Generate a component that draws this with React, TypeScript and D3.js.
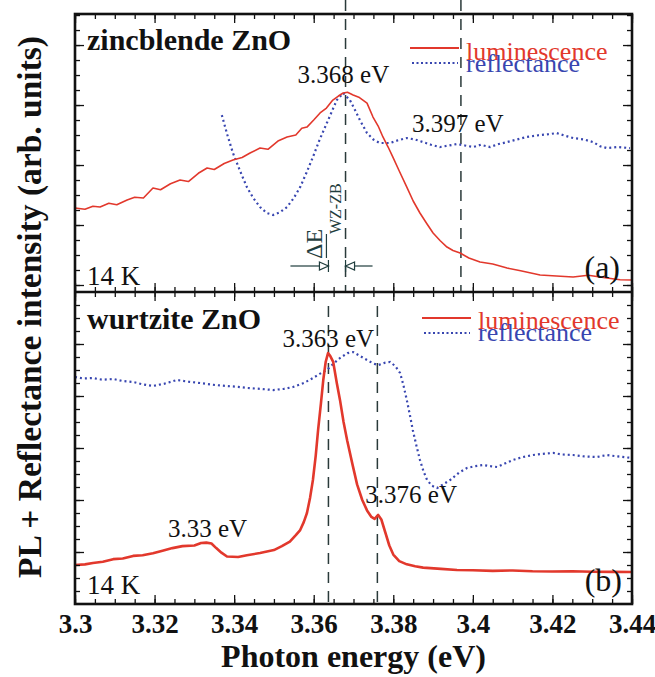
import React, { useRef, useEffect } from "react";
import * as d3 from "d3";

// x axis
const xTicks = [3.3, 3.32, 3.34, 3.36, 3.38, 3.4, 3.42, 3.44];
const xTickLabels = ["3.3", "3.32", "3.34", "3.36", "3.38", "3.4", "3.42", "3.44"];

// (a) zincblende ZnO  -- [energy (eV), intensity (arb.)]
const zbLuminescence = [
  [3.3, 5.13], [3.3025, 5.05], [3.3045, 5.25], [3.3063, 5.2], [3.3085, 5.45], [3.3105, 5.35],
  [3.3131, 5.67], [3.315, 5.85], [3.3172, 5.8], [3.3196, 6.47], [3.3215, 6.35], [3.324, 6.75],
  [3.3264, 7.0], [3.3285, 6.9], [3.331, 7.45], [3.3332, 7.8], [3.335, 7.7], [3.3375, 8.1],
  [3.3397, 8.33], [3.342, 8.5], [3.344, 8.8], [3.3465, 9.13], [3.3485, 9.05], [3.351, 9.6],
  [3.3533, 9.87], [3.3555, 10.0], [3.357, 10.45], [3.3583, 10.53], [3.36, 11.0], [3.3616, 11.47],
  [3.3632, 11.8], [3.3648, 12.33], [3.3662, 12.6], [3.3674, 12.8], [3.3685, 12.85], [3.3699, 12.67],
  [3.3715, 12.5], [3.3734, 12.13], [3.3749, 11.2], [3.3762, 10.6], [3.3774, 9.87], [3.3787, 9.2],
  [3.3799, 8.53], [3.3815, 7.6], [3.3834, 6.53], [3.385, 5.6], [3.3867, 4.8], [3.3884, 4.1],
  [3.39, 3.47], [3.3918, 2.95], [3.3935, 2.53], [3.395, 2.3], [3.3968, 2.13], [3.399, 1.8],
  [3.4018, 1.53], [3.405, 1.4], [3.4086, 1.13], [3.412, 0.95], [3.4169, 0.67], [3.421, 0.6],
  [3.4252, 0.53], [3.429, 0.65], [3.4337, 0.47], [3.437, 0.35], [3.44, 0.33],
];
const zbReflectance = [
  [3.3369, 11.33], [3.3383, 10.0], [3.3397, 8.8], [3.3415, 7.6], [3.3432, 6.53], [3.3448, 5.8],
  [3.3465, 5.2], [3.3482, 4.8], [3.3498, 4.67], [3.3515, 4.85], [3.3533, 5.2], [3.355, 5.8],
  [3.3566, 6.53], [3.3582, 7.5], [3.3598, 8.53], [3.3615, 9.7], [3.3633, 10.8], [3.3658, 12.33],
  [3.3674, 12.8], [3.3691, 12.33], [3.3705, 11.6], [3.3716, 11.0], [3.3734, 10.13], [3.375, 9.7],
  [3.3766, 9.47], [3.3792, 9.47], [3.3812, 9.65], [3.3834, 9.8], [3.3855, 9.7], [3.3875, 9.53],
  [3.3895, 9.35], [3.3917, 9.2], [3.394, 9.3], [3.396, 9.4], [3.398, 9.3], [3.4001, 9.2],
  [3.402, 9.35], [3.4043, 9.2], [3.4065, 9.4], [3.4086, 9.53], [3.411, 9.7], [3.4136, 9.87],
  [3.4169, 10.0], [3.419, 10.05], [3.4211, 10.13], [3.4232, 9.95], [3.4252, 9.8], [3.428, 9.7],
  [3.4302, 9.53], [3.432, 9.25], [3.4337, 9.13], [3.4365, 9.2], [3.4395, 9.13],
];
const zbMarkers = [3.368, 3.397];

// (b) wurtzite ZnO
const wzLuminescence = [
  [3.3, 3.0], [3.3025, 3.05], [3.3045, 3.15], [3.307, 3.25], [3.3096, 3.45], [3.312, 3.5],
  [3.3146, 3.7], [3.317, 3.75], [3.3196, 3.9], [3.322, 4.1], [3.3245, 4.3], [3.327, 4.45],
  [3.33, 4.5], [3.3317, 4.69], [3.333, 4.72], [3.3343, 4.65], [3.3355, 4.3], [3.3368, 3.95],
  [3.3382, 3.65], [3.341, 3.62], [3.3432, 3.75], [3.3465, 3.92], [3.35, 4.15], [3.352, 4.45],
  [3.354, 4.8], [3.3555, 5.3], [3.3566, 5.69], [3.3575, 6.3], [3.3583, 7.0], [3.3591, 8.2],
  [3.3598, 9.54], [3.3605, 11.4], [3.3611, 13.38], [3.3618, 15.4], [3.3624, 17.23], [3.363, 18.6],
  [3.3636, 19.31], [3.3642, 19.05], [3.3649, 18.62], [3.3658, 17.0], [3.3666, 15.7], [3.3675, 14.0],
  [3.3684, 12.6], [3.3697, 10.8], [3.3709, 9.2], [3.3722, 8.0], [3.3734, 7.2], [3.3745, 6.7],
  [3.3753, 6.55], [3.3762, 6.85], [3.377, 6.5], [3.378, 5.5], [3.379, 4.5], [3.38, 3.8],
  [3.3815, 3.3], [3.3834, 3.05], [3.3855, 2.9], [3.3875, 2.8], [3.392, 2.7], [3.396, 2.62],
  [3.4, 2.6], [3.405, 2.55], [3.41, 2.58], [3.415, 2.52], [3.42, 2.5], [3.425, 2.52],
  [3.43, 2.48], [3.435, 2.47], [3.44, 2.46],
];
const wzReflectance = [
  [3.3, 17.46], [3.302, 17.35], [3.3045, 17.38], [3.307, 17.25], [3.3096, 17.31], [3.312, 17.15],
  [3.3146, 17.08], [3.317, 16.9], [3.3196, 16.77], [3.3225, 16.95], [3.3256, 17.23], [3.3285, 17.1],
  [3.3314, 17.0], [3.335, 16.85], [3.3382, 16.77], [3.341, 16.7], [3.3432, 16.62], [3.3465, 16.55],
  [3.3498, 16.46], [3.3525, 16.55], [3.3548, 16.69], [3.3575, 17.0], [3.3598, 17.38], [3.3615, 17.7],
  [3.3633, 18.0], [3.365, 18.5], [3.3666, 18.92], [3.3685, 19.3], [3.3699, 19.38], [3.3715, 19.1],
  [3.3734, 18.77], [3.375, 18.5], [3.3762, 18.38], [3.3778, 18.55], [3.3792, 18.62], [3.3805, 18.3],
  [3.3817, 17.77], [3.3825, 16.9], [3.3834, 15.69], [3.3842, 14.5], [3.3849, 13.38], [3.3858, 12.2],
  [3.3867, 11.08], [3.3876, 10.2], [3.3885, 9.54], [3.3897, 9.1], [3.391, 8.92], [3.3925, 9.2],
  [3.3943, 9.54], [3.3965, 10.1], [3.3985, 10.46], [3.4005, 10.6], [3.4026, 10.69], [3.4045, 10.6],
  [3.4061, 10.54], [3.408, 10.8], [3.4101, 11.08], [3.4125, 11.3], [3.4151, 11.46], [3.4175, 11.55],
  [3.4202, 11.62], [3.4225, 11.5], [3.4252, 11.46], [3.428, 11.35], [3.4312, 11.31], [3.4337, 11.46],
  [3.4365, 11.35], [3.44, 11.23],
];
const wzMarkers = [3.3637, 3.376];

const RED = "#e2382c";
const BLUE = "#3846b0";
const FONT = "'Liberation Serif', 'Times New Roman', serif";

const App = () => {
  const ref = useRef<SVGSVGElement>(null);
  const width = 655;
  const height = 677;
  const left = 75;
  const right = 632;

  useEffect(() => {
    const svg = d3.select(ref.current);
    svg.selectAll("*").remove();

    const x = d3.scaleLinear().domain([3.3, 3.44]).range([left, right]);
    const minorX = d3.range(0, 29).map((i) => 3.3 + i * 0.005);

    const panels = [
      {
        top: 14, bottom: 292,
        y: d3.scaleLinear().domain([-7 / 15, 18.07]).range([292, 14]),
        minor: d3.range(0, 19), major: [0, 4, 8, 12, 16],
        lum: zbLuminescence, refl: zbReflectance, lumWidth: 1.6,
        markers: zbMarkers, markerTop: 0, markerBottom: 292,
      },
      {
        top: 292, bottom: 604,
        y: d3.scaleLinear().domain([0, 24]).range([604, 292]),
        minor: d3.range(1, 24), major: [4, 8, 12, 16, 20],
        lum: wzLuminescence, refl: wzReflectance, lumWidth: 2.6,
        markers: wzMarkers, markerTop: 306, markerBottom: 604,
      },
    ];

    const blank = () => "";

    panels.forEach((p) => {
      const g = svg.append("g");

      // dashed peak markers
      g.selectAll(".marker")
        .data(p.markers)
        .enter()
        .append("line")
        .attr("x1", (d) => x(d))
        .attr("x2", (d) => x(d))
        .attr("y1", p.markerTop)
        .attr("y2", p.markerBottom)
        .attr("stroke", "#2a3a3a")
        .attr("stroke-width", 1.5)
        .attr("stroke-dasharray", "11,8");

      const line = d3
        .line<number[]>()
        .x((d) => x(d[0]))
        .y((d) => p.y(d[1]));

      g.append("path")
        .datum(p.refl)
        .attr("d", line)
        .attr("fill", "none")
        .attr("stroke", BLUE)
        .attr("stroke-width", 2.2)
        .attr("stroke-dasharray", "2,3");

      g.append("path")
        .datum(p.lum)
        .attr("d", line)
        .attr("fill", "none")
        .attr("stroke", RED)
        .attr("stroke-width", p.lumWidth)
        .attr("stroke-linejoin", "round");

      // ticks pointing inward on all four sides
      const tickSets = [
        { vals: minorX, size: 5 },
        { vals: xTicks, size: 9 },
      ];
      tickSets.forEach((t) => {
        g.append("g")
          .attr("transform", `translate(0,${p.bottom})`)
          .call(d3.axisTop(x).tickValues(t.vals).tickSize(t.size).tickFormat(blank));
        g.append("g")
          .attr("transform", `translate(0,${p.top})`)
          .call(d3.axisBottom(x).tickValues(t.vals).tickSize(t.size).tickFormat(blank));
      });
      [
        { vals: p.minor, size: 5 },
        { vals: p.major, size: 9 },
      ].forEach((t) => {
        g.append("g")
          .attr("transform", `translate(${left},0)`)
          .call(d3.axisRight(p.y).tickValues(t.vals).tickSize(t.size).tickFormat(blank));
        g.append("g")
          .attr("transform", `translate(${right},0)`)
          .call(d3.axisLeft(p.y).tickValues(t.vals).tickSize(t.size).tickFormat(blank));
      });
    });

    svg.selectAll(".domain").remove();
    svg.selectAll(".tick line").attr("stroke", "#111").attr("stroke-width", 1.3);

    // frame
    svg.append("rect")
      .attr("x", left).attr("y", 14)
      .attr("width", right - left).attr("height", 604 - 14)
      .attr("fill", "none").attr("stroke", "#111").attr("stroke-width", 2.6);
    svg.append("line")
      .attr("x1", left).attr("x2", right).attr("y1", 292).attr("y2", 292)
      .attr("stroke", "#111").attr("stroke-width", 2.6);

    // x tick labels
    const xAxis = svg.append("g")
      .attr("transform", "translate(0,604)")
      .call(
        d3.axisBottom(x)
          .tickValues(xTicks)
          .tickSize(0)
          .tickPadding(10)
          .tickFormat((d, i) => xTickLabels[i])
      );
    xAxis.select(".domain").remove();
    xAxis.selectAll("text")
      .attr("font-family", FONT)
      .attr("font-size", 27)
      .attr("font-weight", "bold")
      .attr("fill", "#111");

    // axis titles
    svg.append("text")
      .attr("x", (left + right) / 2)
      .attr("y", 667)
      .attr("text-anchor", "middle")
      .attr("font-family", FONT)
      .attr("font-size", 32)
      .attr("font-weight", "bold")
      .attr("fill", "#111")
      .text("Photon energy (eV)");
    svg.append("text")
      .attr("transform", "translate(41,307) rotate(-90)")
      .attr("text-anchor", "middle")
      .attr("font-family", FONT)
      .attr("font-size", 33.5)
      .attr("font-weight", "bold")
      .attr("fill", "#111")
      .text("PL + Reflectance intensity (arb. units)");

    const label = (tx, ty, str, size, opts = {}) => {
      const t = svg.append("text")
        .attr("x", tx)
        .attr("y", ty)
        .attr("font-family", FONT)
        .attr("font-size", size)
        .attr("fill", opts.fill || "#111")
        .attr("font-weight", opts.weight || "normal")
        .text(str);
      if (opts.anchor) t.attr("text-anchor", opts.anchor);
      return t;
    };

    // panel titles
    label(87, 50, "zincblende ZnO", 30, { weight: "bold" });
    label(87, 329, "wurtzite ZnO", 30, { weight: "bold" });
    label(87, 285, "14 K", 27);
    label(87, 594, "14 K", 27);
    label(620, 278, "(a)", 32, { anchor: "end" });
    label(622, 591, "(b)", 32, { anchor: "end" });

    // peak labels
    label(x(zbMarkers[0]) - 48, 83, "3.368 eV", 25);
    label(x(zbMarkers[1]) - 49, 132, "3.397 eV", 25);
    label(x(wzMarkers[0]) - 46, 347, "3.363 eV", 25);
    label(x(wzMarkers[1]) - 12, 503, "3.376 eV", 25);
    label(168, 537, "3.33 eV", 25);

    // legends
    const legends = [
      { lx: 410, ly: 48, ty: 60 },
      { lx: 422, ly: 318, ty: 329 },
    ];
    legends.forEach((l) => {
      svg.append("line")
        .attr("x1", l.lx).attr("x2", l.lx + 49)
        .attr("y1", l.ly).attr("y2", l.ly)
        .attr("stroke", RED).attr("stroke-width", 2);
      svg.append("line")
        .attr("x1", l.lx + 2).attr("x2", l.lx + 48)
        .attr("y1", l.ly + 15).attr("y2", l.ly + 15)
        .attr("stroke", BLUE).attr("stroke-width", 2.2)
        .attr("stroke-dasharray", "2,2.5");
      label(l.lx + 56, l.ty, "luminescence", 26, { fill: RED });
      label(l.lx + 56, l.ty + 12, "reflectance", 26, { fill: BLUE });
    });

    // Delta E annotation between the two peak energies
    const xa = x(wzMarkers[0]);
    const xb = x(zbMarkers[0]);
    const ay = 266;
    const teal = "#1f3d3d";
    svg.append("text")
      .attr("transform", `translate(${xa - 6},259) rotate(-90)`)
      .attr("font-family", FONT)
      .attr("font-size", 24)
      .attr("fill", teal)
      .text("ΔE");
    svg.append("text")
      .attr("transform", `translate(${xa + 13},234) rotate(-90)`)
      .attr("font-family", FONT)
      .attr("font-size", 16)
      .attr("fill", teal)
      .text("WZ-ZB");
    svg.append("line")
      .attr("x1", xa - 2).attr("x2", xa - 2).attr("y1", 234).attr("y2", 258)
      .attr("stroke", teal).attr("stroke-width", 1.2);
    const arrows = [
      { tip: xa, tail: xa - 38, dir: 1 },
      { tip: xb, tail: xb + 27, dir: -1 },
    ];
    arrows.forEach((a) => {
      svg.append("line")
        .attr("x1", a.tail).attr("x2", a.tip - a.dir * 9)
        .attr("y1", ay).attr("y2", ay)
        .attr("stroke", teal).attr("stroke-width", 1.2);
      svg.append("path")
        .attr("d", `M${a.tip - a.dir * 9},${ay - 4} L${a.tip},${ay} L${a.tip - a.dir * 9},${ay + 4} Z`)
        .attr("fill", "white").attr("stroke", teal).attr("stroke-width", 1.2);
      svg.append("line")
        .attr("x1", a.tip).attr("x2", a.tip).attr("y1", ay - 6).attr("y2", ay + 6)
        .attr("stroke", teal).attr("stroke-width", 1.2);
    });
  }, []);

  return (
    <svg
      ref={ref}
      width={width}
      height={height}
      style={{ position: "absolute", left: 0, top: 0, background: "white" }}
    />
  );
};

export default App;
